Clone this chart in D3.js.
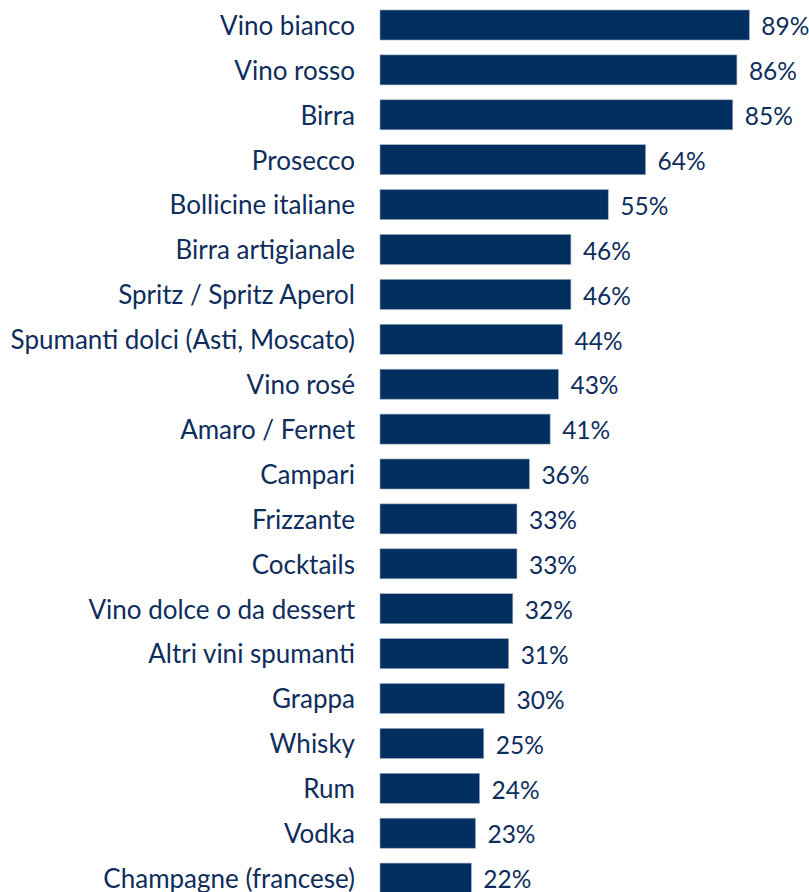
<!DOCTYPE html>
<html><head><meta charset="utf-8">
<script src="https://cdn.jsdelivr.net/npm/d3@7"></script>
<style>html,body{margin:0;padding:0;background:#fff;overflow:hidden}</style>
</head><body>
<svg id="chart" width="809" height="892"></svg>
<script>
const categories = ["Vino bianco","Vino rosso","Birra","Prosecco","Bollicine italiane","Birra artigianale","Spritz / Spritz Aperol","Spumanti dolci (Asti, Moscato)","Vino rosé","Amaro / Fernet","Campari","Frizzante","Cocktails","Vino dolce o da dessert","Altri vini spumanti","Grappa","Whisky","Rum","Vodka","Champagne (francese)"];
const values = [89,86,85,64,55,46,46,44,43,41,36,33,33,32,31,30,25,24,23,22];

const svg = d3.select("#chart");
const x = d3.scaleLinear().domain([0,100]).range([380,795]);
const y = d3.scaleBand().domain(categories).range([2.55, 2.55 + 20*44.9]).paddingInner(0.3318).paddingOuter(0.1659);
const font = "Lato, 'Open Sans', sans-serif";
const col = "#002f60";
const txt = "#0e2d5c";

const data = categories.map((c,i)=>({c, v: values[i]}));

svg.selectAll("rect.bar").data(data).join("rect")
  .attr("class","bar")
  .attr("x", x(0))
  .attr("y", d=>y(d.c))
  .attr("width", d=>x(d.v)-x(0))
  .attr("height", y.bandwidth())
  .attr("fill", col)
  .attr("stroke", "#9aaac0").attr("stroke-width", 0.6);

svg.selectAll("text.cat").data(data).join("text")
  .attr("class","cat")
  .attr("x", 355)
  .attr("y", d=>y(d.c)+y.bandwidth()/2)
  .attr("dy","0.38em")
  .attr("text-anchor","end")
  .attr("font-family", font).attr("font-size", 26)
  .attr("fill", txt)
  .text(d=>d.c);

svg.selectAll("text.val").data(data).join("text")
  .attr("class","val")
  .attr("x", d=>x(d.v)+12)
  .attr("y", d=>y(d.c)+y.bandwidth()/2)
  .attr("dy","0.42em")
  .attr("font-family", font).attr("font-size", 24.5)
  .attr("fill", txt)
  .text(d=>d.v+"%");
</script>
</body></html>
